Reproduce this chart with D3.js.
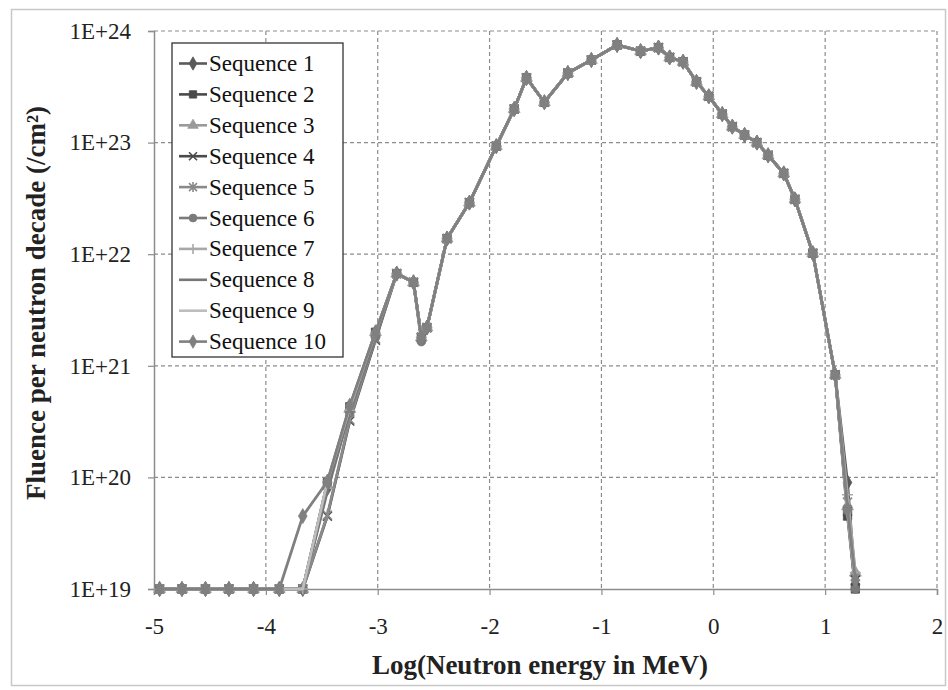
<!DOCTYPE html>
<html><head><meta charset="utf-8">
<script src="https://cdn.jsdelivr.net/npm/d3@7"></script>
<style>body{margin:0;background:#fff;} svg{display:block;}</style>
</head><body>
<svg id="chart" width="948" height="690"></svg>
<script>
const seriesNames = ["Sequence 1","Sequence 2","Sequence 3","Sequence 4","Sequence 5","Sequence 6","Sequence 7","Sequence 8","Sequence 9","Sequence 10"];
const logEnergy = [-4.95,-4.75,-4.54,-4.33,-4.11,-3.88,-3.67,-3.45,-3.25,-3.02,-2.83,-2.68,-2.61,-2.56,-2.38,-2.18,-1.94,-1.78,-1.67,-1.51,-1.30,-1.09,-0.86,-0.65,-0.49,-0.39,-0.27,-0.15,-0.04,0.08,0.17,0.28,0.39,0.49,0.63,0.73,0.89,1.09,1.20,1.27];
const xTicks = [-5,-4,-3,-2,-1,0,1,2];
const yTicks = [1e19,1e20,1e21,1e22,1e23,1e24];
const yTickLabels = ["1E+19","1E+20","1E+21","1E+22","1E+23","1E+24"];

const seq1 = [1e19,1e19,1e19,1e19,1e19,1e19,1e19,8e19,4.0e20,1.9e21,6.7e21,5.6e21,1.8e21,2.2e21,1.38e22,2.9e22,9.3e22,2.0e23,3.8e23,2.3e23,4.2e23,5.5e23,7.5e23,6.6e23,7.1e23,5.8e23,5.3e23,3.5e23,2.6e23,1.8e23,1.39e23,1.17e23,1.0e23,7.7e22,5.3e22,3.1e22,1.02e22,8.3e20,9e19,1.1e19];
const seq2 = [1e19,1e19,1e19,1e19,1e19,1e19,1e19,9e19,4.3e20,2.0e21,6.7e21,5.6e21,1.8e21,2.2e21,1.38e22,2.9e22,9.3e22,2.0e23,3.8e23,2.3e23,4.2e23,5.5e23,7.5e23,6.6e23,7.1e23,5.8e23,5.3e23,3.5e23,2.6e23,1.8e23,1.39e23,1.17e23,1.0e23,7.7e22,5.3e22,3.1e22,1.02e22,8.3e20,4.5e19,1.0e19];
const seq3 = [1e19,1e19,1e19,1e19,1e19,1e19,1e19,8.5e19,4.1e20,2.0e21,6.7e21,5.6e21,1.8e21,2.2e21,1.38e22,2.9e22,9.3e22,2.0e23,3.8e23,2.3e23,4.2e23,5.5e23,7.5e23,6.6e23,7.1e23,5.8e23,5.3e23,3.5e23,2.6e23,1.8e23,1.39e23,1.17e23,1.0e23,7.7e22,5.3e22,3.1e22,1.02e22,8.3e20,5.5e19,1.4e19];
const seq4 = [1e19,1e19,1e19,1e19,1e19,1e19,1e19,4.5e19,3.2e20,1.7e21,6.7e21,5.6e21,1.8e21,2.2e21,1.38e22,2.9e22,9.3e22,2.0e23,3.8e23,2.3e23,4.2e23,5.5e23,7.5e23,6.6e23,7.1e23,5.8e23,5.3e23,3.5e23,2.6e23,1.8e23,1.39e23,1.17e23,1.0e23,7.7e22,5.3e22,3.1e22,1.02e22,8.3e20,5.0e19,1.2e19];
const seq5 = [1e19,1e19,1e19,1e19,1e19,1e19,1e19,4.6e19,3.3e20,1.75e21,6.7e21,5.6e21,1.8e21,2.2e21,1.38e22,2.9e22,9.3e22,2.0e23,3.8e23,2.3e23,4.2e23,5.5e23,7.5e23,6.6e23,7.1e23,5.8e23,5.3e23,3.5e23,2.6e23,1.8e23,1.39e23,1.17e23,1.0e23,7.7e22,5.3e22,3.1e22,1.02e22,8.3e20,6.0e19,1.3e19];
const seq6 = [1e19,1e19,1e19,1e19,1e19,1e19,1e19,9e19,3.8e20,1.8e21,6.7e21,5.6e21,1.65e21,2.2e21,1.38e22,2.9e22,9.3e22,2.0e23,3.8e23,2.3e23,4.2e23,5.5e23,7.5e23,6.6e23,7.1e23,5.8e23,5.3e23,3.5e23,2.6e23,1.8e23,1.39e23,1.17e23,1.0e23,7.7e22,5.3e22,3.1e22,1.02e22,8.3e20,5.0e19,1.0e19];
const seq7 = [1e19,1e19,1e19,1e19,1e19,1e19,1e19,8e19,4.0e20,1.95e21,6.7e21,5.6e21,1.8e21,2.2e21,1.38e22,2.9e22,9.3e22,2.0e23,3.8e23,2.3e23,4.2e23,5.5e23,7.5e23,6.6e23,7.1e23,5.8e23,5.3e23,3.5e23,2.6e23,1.8e23,1.39e23,1.17e23,1.0e23,7.7e22,5.3e22,3.1e22,1.02e22,8.3e20,7.0e19,1.4e19];
const seq8 = [1e19,1e19,1e19,1e19,1e19,1e19,1e19,7.5e19,3.9e20,1.9e21,6.7e21,5.6e21,1.8e21,2.2e21,1.38e22,2.9e22,9.3e22,2.0e23,3.8e23,2.3e23,4.2e23,5.5e23,7.5e23,6.6e23,7.1e23,5.8e23,5.3e23,3.5e23,2.6e23,1.8e23,1.39e23,1.17e23,1.0e23,7.7e22,5.3e22,3.1e22,1.02e22,8.3e20,5.0e19,1.0e19];
const seq9 = [1e19,1e19,1e19,1e19,1e19,1e19,1e19,9.2e19,4.2e20,2.0e21,6.7e21,5.6e21,1.8e21,2.2e21,1.38e22,2.9e22,9.3e22,2.0e23,3.8e23,2.3e23,4.2e23,5.5e23,7.5e23,6.6e23,7.1e23,5.8e23,5.3e23,3.5e23,2.6e23,1.8e23,1.39e23,1.17e23,1.0e23,7.7e22,5.3e22,3.1e22,1.02e22,8.3e20,4.8e19,1.1e19];
const seq10 = [1e19,1e19,1e19,1e19,1e19,1e19,4.5e19,9.2e19,4.4e20,2.0e21,6.7e21,5.6e21,1.8e21,2.2e21,1.38e22,2.9e22,9.3e22,2.0e23,3.8e23,2.3e23,4.2e23,5.5e23,7.5e23,6.6e23,7.1e23,5.8e23,5.3e23,3.5e23,2.6e23,1.8e23,1.39e23,1.17e23,1.0e23,7.7e22,5.3e22,3.1e22,1.02e22,8.3e20,5.2e19,1.2e19];
const allSeries = [seq1,seq2,seq3,seq4,seq5,seq6,seq7,seq8,seq9,seq10];

const colors = ["#5a5a5a","#4a4a4a","#9a9a9a","#4a4a4a","#8a8a8a","#7a7a7a","#a8a8a8","#777777","#bdbdbd","#808080"];
const markers = ["diamond","square","triangle","x","asterisk","circle","plus","none","none","diamond"];

(function(){
const svg = d3.select("#chart");
const pL = 154, pR = 937, pT = 31, pB = 589;
const FF = "Liberation Serif";

svg.append("rect").attr("x",11.5).attr("y",9.5).attr("width",934).attr("height",676)
  .attr("fill","#fff").attr("stroke","#c8c8c8").attr("stroke-width",1.5);

const x = d3.scaleLinear().domain([-5,2]).range([pL,pR]);
const y = d3.scaleLog().domain([1e19,1e24]).range([pB,pT]);

const g = svg.append("g");
g.selectAll(".vg").data(xTicks.filter(d=>d!==-5)).enter().append("line")
  .attr("x1",d=>x(d)).attr("x2",d=>x(d)).attr("y1",pT).attr("y2",pB)
  .attr("stroke","#8c8c8c").attr("stroke-width",1.2).attr("stroke-dasharray","4,3");
g.selectAll(".hg").data(yTicks.filter(d=>d!==1e19)).enter().append("line")
  .attr("x1",pL).attr("x2",pR).attr("y1",d=>y(d)).attr("y2",d=>y(d))
  .attr("stroke","#8c8c8c").attr("stroke-width",1.2).attr("stroke-dasharray","4,3");

const xAxis = d3.axisBottom(x).tickValues(xTicks).tickSize(6).tickPadding(3).tickFormat(d3.format("d"));
const yAxis = d3.axisLeft(y).tickValues(yTicks).tickSize(6).tickPadding(17).tickFormat((d,i)=>yTickLabels[i]);
const xa = svg.append("g").attr("transform",`translate(0,${pB})`).call(xAxis);
const ya = svg.append("g").attr("transform",`translate(${pL},0)`).call(yAxis);
[xa,ya].forEach(a=>{
  a.attr("font-family",FF).attr("font-size",23);
  a.select(".domain").attr("stroke","#8c8c8c").attr("stroke-width",1.5);
  a.selectAll(".tick line").attr("stroke","#8c8c8c").attr("stroke-width",1.2);
  a.selectAll("text").attr("font-family",FF).attr("font-size",23).attr("fill","#222");
});
xa.selectAll("text").attr("dy","1.55em").text(d=> d<0 ? "-"+Math.abs(d) : d);
ya.selectAll("text").attr("dy","0.32em");

const line = d3.line().x(d=>x(d[0])).y(d=>y(d[1]));
function markerPath(type, s){
  switch(type){
    case "diamond": return d3.symbol().type(d3.symbolDiamond).size(s*s*0.8)();
    case "square": return d3.symbol().type(d3.symbolSquare).size(s*s*0.85)();
    case "triangle": return d3.symbol().type(d3.symbolTriangle).size(s*s*0.75)();
    case "circle": return d3.symbol().type(d3.symbolCircle).size(s*s*0.75)();
    case "x": { const r=s/2; return `M${-r},${-r}L${r},${r}M${-r},${r}L${r},${-r}`; }
    case "plus": { const r=s/2+1; return `M${-r},0L${r},0M0,${-r}L0,${r}`; }
    case "asterisk": { const r=s/2; return `M${-r},${-r}L${r},${r}M${-r},${r}L${r},${-r}M0,${-r-1}L0,${r+1}`; }
  }
  return null;
}
const stroked = t => t==="x"||t==="plus"||t==="asterisk";

const plot = svg.append("g");
allSeries.forEach((vals,i)=>{
  const pts = logEnergy.map((e,j)=>[e,vals[j]]);
  plot.append("path").datum(pts).attr("d",line).attr("fill","none")
    .attr("stroke",colors[i]).attr("stroke-width",2.8).attr("stroke-linejoin","round");
  const mp = markerPath(markers[i], 9);
  if(mp){
    plot.selectAll(null).data(pts).enter().append("path")
      .attr("d",mp).attr("transform",d=>`translate(${x(d[0])},${y(d[1])})`)
      .attr("fill",stroked(markers[i])?"none":colors[i])
      .attr("stroke",colors[i]).attr("stroke-width",stroked(markers[i])?1.6:0.8);
  }
});

const lg = svg.append("g");
const lx = 172, ly = 43, lw = 171, lh = 314, rowH = 30.9;
lg.append("rect").attr("x",lx).attr("y",ly).attr("width",lw).attr("height",lh)
  .attr("fill","#fff").attr("stroke","#333").attr("stroke-width",1.3);
seriesNames.forEach((nm,i)=>{
  const cy = ly + 20.5 + i*rowH;
  lg.append("line").attr("x1",lx+7).attr("x2",lx+35).attr("y1",cy).attr("y2",cy)
    .attr("stroke",colors[i]).attr("stroke-width",2.6);
  const mp = markerPath(markers[i], 8);
  if(mp) lg.append("path").attr("d",mp).attr("transform",`translate(${lx+21},${cy})`)
    .attr("fill",stroked(markers[i])?"none":colors[i]).attr("stroke",colors[i])
    .attr("stroke-width",stroked(markers[i])?1.6:0.8);
  lg.append("text").attr("x",lx+37).attr("y",cy).attr("dy","0.33em")
    .attr("font-family",FF).attr("font-size",23).attr("fill","#111").text(nm);
});

svg.append("text").attr("x",540).attr("y",674).attr("text-anchor","middle")
  .attr("font-family",FF).attr("font-size",27).attr("font-weight","bold").attr("fill","#222")
  .text("Log(Neutron energy in MeV)");
svg.append("text").attr("transform",`translate(45,303) rotate(-90)`)
  .attr("text-anchor","middle").attr("font-family",FF).attr("font-size",27).attr("font-weight","bold").attr("fill","#222")
  .text("Fluence per neutron decade (/cm²)");
})();
</script>
</body></html>
